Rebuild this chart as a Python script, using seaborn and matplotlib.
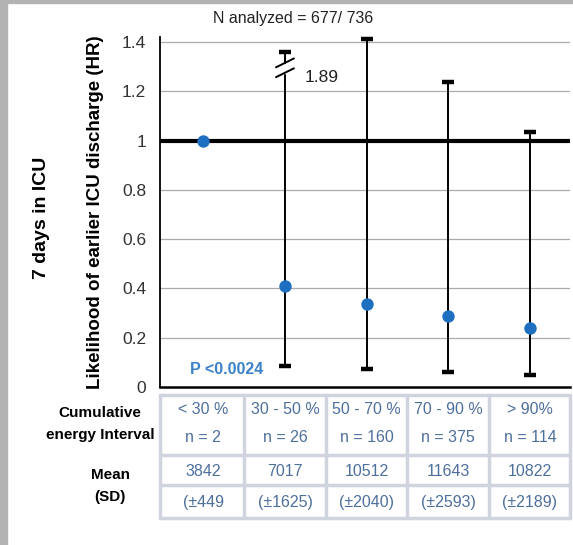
import numpy as np
import pandas as pd
import matplotlib
matplotlib.use("Agg")
import matplotlib.pyplot as plt
import seaborn as sns
from matplotlib import font_manager
from matplotlib.transforms import blended_transform_factory
from matplotlib.patches import Rectangle
from matplotlib.lines import Line2D

# ---------------- data ----------------
categories = ["< 30 %", "30 - 50 %", "50 - 70 %", "70 - 90 %", "> 90%"]
n_labels = ["n = 2", "n = 26", "n = 160", "n = 375", "n = 114"]
means = ["3842", "7017", "10512", "11643", "10822"]
sds = ["(±449", "(±1625)", "(±2040)", "(±2593)", "(±2189)"]
hr = [1.0, 0.41, 0.335, 0.29, 0.24]
ci_low = [np.nan, 0.085, 0.073, 0.061, 0.049]
ci_high = [np.nan, 1.89, 1.41, 1.238, 1.035]
ci_high_shown = [np.nan, 1.36, 1.41, 1.238, 1.035]   # truncated display of 1.89
truncated_label = "1.89"
yticks = [0, 0.2, 0.4, 0.6, 0.8, 1, 1.2, 1.4]
ytick_labels = ["0", "0.2", "0.4", "0.6", "0.8", "1", "1.2", "1.4"]
title = "N analyzed = 677/ 736"
p_text = "P <0.0024"

# ---------------- style ----------------
sns.set_theme(style="white")
avail = {f.name for f in font_manager.fontManager.ttflist}
narrow = "Liberation Sans Narrow" if "Liberation Sans Narrow" in avail else "Liberation Sans"
plt.rcParams["font.family"] = [narrow, "DejaVu Sans"]

W, H = 573, 545
fig = plt.figure(figsize=(W / 100, H / 100), dpi=100)
fig.patch.set_facecolor("white")

# grey frame of the screenshot
fig.patches.append(Rectangle((0, 0), 7 / W, 1, transform=fig.transFigure,
                             color="#b3b3b3", zorder=0))
fig.patches.append(Rectangle((0, 1 - 3 / H), 1, 3 / H, transform=fig.transFigure,
                             color="#b3b3b3", zorder=0))

ax_left, ax_right = 160 / W, 570 / W
ax_bottom, ax_top = 1 - 387 / H, 1 - 37 / H
ax = fig.add_axes([ax_left, ax_bottom, ax_right - ax_left, ax_top - ax_bottom])
ax.set_facecolor("white")

x = np.arange(len(categories))
df = pd.DataFrame({"x": x, "hr": hr})

ax.set_xlim(-0.53, 4.49)
ax.set_ylim(0, 1.42)

# grid
for t in yticks[1:]:
    ax.axhline(t, color="#ababab", lw=0.9, zorder=0)

# reference line
ax.axhline(1, color="black", lw=3.0, zorder=2)

# error bars
lo = np.array(ci_low)
hi = np.array(ci_high_shown)
hrv = np.array(hr)
mask = ~np.isnan(lo)
ax.errorbar(x[mask], hrv[mask], yerr=[hrv[mask] - lo[mask], hi[mask] - hrv[mask]],
            fmt="none", ecolor="black", elinewidth=1.4, capsize=4.5, capthick=3.2,
            zorder=3, clip_on=False)

# break marks on the truncated bar
trunc_idx = int(np.nanargmax(np.array(ci_high)))
bx = x[trunc_idx]
by = ci_high_shown[trunc_idx]
dx = 0.11
ax.add_patch(Rectangle((bx - 0.05, by - 0.085), 0.1, 0.035, color="white", zorder=4,
                       clip_on=False))
for off in (-0.045, -0.085):
    ax.add_line(Line2D([bx - dx, bx + dx], [by + off - 0.018, by + off + 0.018],
                       color="black", lw=1.4, zorder=5, clip_on=False))
ax.text(bx + 0.24, by - 0.105, truncated_label, fontsize=12.5, color="#222222",
        ha="left", va="center")

# points
sns.scatterplot(data=df, x="x", y="hr", ax=ax, s=80, color="#1f6fc1",
                edgecolor="#1f6fc1", linewidth=0, zorder=6, clip_on=False, legend=False)

# axes styling
ax.set_yticks(yticks)
ax.set_yticklabels(ytick_labels, fontsize=12.5, color="#333333")
ax.set_xticks([])
ax.tick_params(axis="y", length=0, pad=10)
for s in ("top", "right"):
    ax.spines[s].set_visible(False)
ax.spines["left"].set_color("black")
ax.spines["left"].set_linewidth(1.3)
ax.spines["bottom"].set_color("black")
ax.spines["bottom"].set_linewidth(1.8)
ax.set_xlabel("")
ax.set_ylabel("Likelihood of earlier ICU discharge (HR)", fontsize=13.5,
              fontweight="bold", color="black")
ax.yaxis.set_label_coords((96 - 160) / (570 - 160), 0.5)
ax.yaxis.label.set_va("center")

ax.text(0.29, 0.069, p_text, color="#3b82c8", fontsize=11.5, fontweight="bold",
        ha="center", va="center")

fig.text(293 / W, 1 - 19 / H, title, fontsize=11.5, ha="center", va="center",
         color="#222222")
fig.text(42 / W, 1 - 218 / H, "7 days in ICU", fontsize=14, fontweight="bold",
         rotation=90, ha="center", va="center", color="black")

# ---------------- table ----------------
tr = blended_transform_factory(ax.transData, fig.transFigure)
row_top, row_mid1, row_mid2, row_bot = 1 - 395 / H, 1 - 455 / H, 1 - 485 / H, 1 - 518 / H
grid_col = "#cfd4de"
xl, xr = ax.get_xlim()
bounds = [xl] + [i + 0.5 for i in range(len(categories) - 1)] + [xr]
for b in bounds:
    fig.add_artist(Line2D([b, b], [row_bot, row_top], transform=tr, color=grid_col,
                          lw=2.5, zorder=1))
for yy in (row_top, row_mid1, row_mid2, row_bot):
    fig.add_artist(Line2D([xl, xr], [yy, yy], transform=tr, color=grid_col,
                          lw=2.5, zorder=1))

tcol = "#4e6f9c"
y_cat, y_n, y_mean, y_sd = 1 - 410 / H, 1 - 438 / H, 1 - 471 / H, 1 - 502 / H
for i in range(len(categories)):
    fig.text(x[i], y_cat, categories[i], transform=tr, ha="center", va="center",
             fontsize=11.5, color=tcol)
    fig.text(x[i], y_n, n_labels[i], transform=tr, ha="center", va="center",
             fontsize=11.5, color=tcol)
    fig.text(x[i], y_mean, means[i], transform=tr, ha="center", va="center",
             fontsize=11.5, color=tcol)
    fig.text(x[i], y_sd, sds[i], transform=tr, ha="center", va="center",
             fontsize=11.5, color=tcol)

fig.text(100 / W, 1 - 424 / H, "Cumulative\nenergy Interval", ha="center", va="center",
         multialignment="center", fontsize=11, fontweight="bold", color="black",
         linespacing=1.7)
fig.text(110 / W, 1 - 486 / H, "Mean\n(SD)", ha="center", va="center",
         multialignment="center", fontsize=11, fontweight="bold", color="black",
         linespacing=1.7)

fig.savefig("out.png", dpi=100, facecolor="white")
